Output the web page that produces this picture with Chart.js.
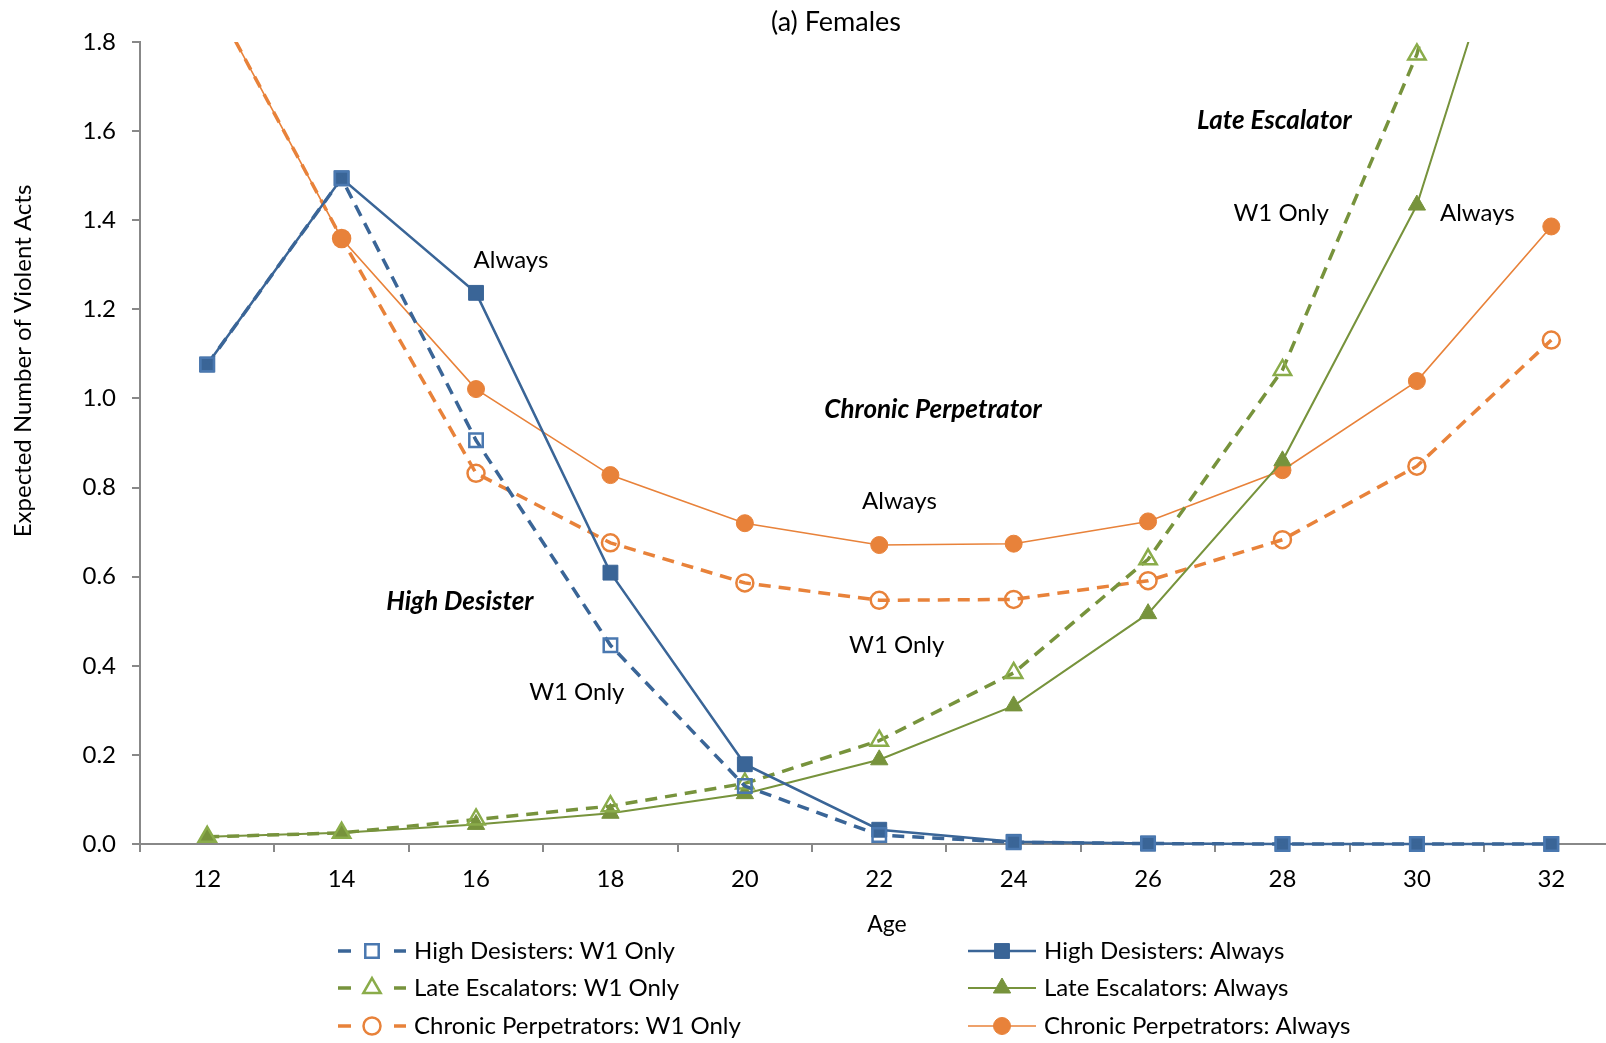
<!DOCTYPE html>
<html>
<head>
<meta charset="utf-8">
<title>(a) Females</title>
<script src="https://cdn.jsdelivr.net/npm/chart.js@4.4.0/dist/chart.umd.min.js"></script>
<style>
  html, body { margin: 0; padding: 0; background: #fff; overflow: hidden; }
</style>
</head>
<body>
<canvas id="femalesChart" width="1631" height="1043"></canvas>
<script>
// data
const ages = ["12", "14", "16", "18", "20", "22", "24", "26", "28", "30", "32"];
const highDesistersW1 = [1.076, 1.494, 0.906, 0.446, 0.13, 0.02, 0.004, 0.001, 0, 0, 0];
const highDesistersAlways = [1.076, 1.494, 1.237, 0.609, 0.179, 0.032, 0.005, 0.001, 0, 0, 0];
const lateEscalatorsW1 = [0.016, 0.025, 0.055, 0.085, 0.136, 0.232, 0.384, 0.639, 1.064, 1.772, 2.95];
const lateEscalatorsAlways = [0.016, 0.025, 0.044, 0.069, 0.113, 0.189, 0.31, 0.517, 0.86, 1.434, 2.39];
const chronicW1 = [1.92, 1.359, 0.832, 0.676, 0.586, 0.547, 0.549, 0.591, 0.683, 0.848, 1.131];
const chronicAlways = [1.92, 1.359, 1.021, 0.828, 0.72, 0.671, 0.674, 0.724, 0.839, 1.039, 1.386];
const yTicks = [0, 0.2, 0.4, 0.6, 0.8, 1.0, 1.2, 1.4, 1.6, 1.8];

// text notes on the plot: [text, category index, value, bold italic]
const notes = [
  ["Always", 2.26, 1.31, false],
  ["High Desister", 1.88, 0.545, true],
  ["W1 Only", 2.75, 0.34, false],
  ["Chronic Perpetrator", 5.4, 0.975, true],
  ["Always", 5.15, 0.77, false],
  ["W1 Only", 5.13, 0.446, false],
  ["Late Escalator", 7.94, 1.623, true],
  ["W1 Only", 7.99, 1.416, false],
  ["Always", 9.45, 1.416, false],
];

const BLUE = "#3a6597";
const BLUE_LT = "#4a78b0";
const GREEN = "#77933c";
const GREEN_LT = "#8aac4a";
const ORANGE = "#e8823a";
const FONT = "Lato, 'Open Sans', sans-serif";

function series(label, data, color, markColor, style, radius, dashed, width) {
  return {
    label: label,
    data: data,
    borderColor: color,
    borderWidth: width,
    borderDash: dashed ? [12, 8] : [],
    pointStyle: style,
    pointRadius: radius,
    pointBorderColor: markColor,
    pointBackgroundColor: dashed ? "rgba(0,0,0,0)" : markColor,
    pointBorderWidth: dashed ? 2.5 : 1,
    tension: 0,
    fill: false,
    clip: { left: 12, top: 0, right: 12, bottom: 12 },
  };
}

const datasets = [
  series("High Desisters: W1 Only", highDesistersW1, BLUE, BLUE_LT, "rect", 9.5, true, 3.5),
  series("High Desisters: Always", highDesistersAlways, BLUE, BLUE, "rect", 10.5, false, 2.5),
  series("Late Escalators: W1 Only", lateEscalatorsW1, GREEN, GREEN_LT, "triangle", 10, true, 3.5),
  series("Late Escalators: Always", lateEscalatorsAlways, GREEN, GREEN, "triangle", 10, false, 2),
  series("Chronic Perpetrators: W1 Only", chronicW1, ORANGE, ORANGE, "circle", 8.5, true, 3.5),
  series("Chronic Perpetrators: Always", chronicAlways, ORANGE, ORANGE, "circle", 8.5, false, 1.6),
];

// legend slots: column x of the line sample, row y
const legendCols = [338, 968];
const legendRows = [951, 988, 1026];

const decor = {
  id: "decor",
  afterDraw(chart) {
    const ctx = chart.ctx;
    const xs = chart.scales.x;
    const ys = chart.scales.y;
    ctx.save();
    ctx.fillStyle = "#000";
    ctx.textBaseline = "middle";
    ctx.textAlign = "center";

    ctx.font = "27px " + FONT;
    ctx.fillText("(a) Females", 836, 22);
    ctx.font = "23px " + FONT;
    ctx.fillText("Age", 887, 925);

    ctx.save();
    ctx.translate(23, 361);
    ctx.rotate(-Math.PI / 2);
    ctx.font = "24px " + FONT;
    ctx.fillText("Expected Number of Violent Acts", 0, 0);
    ctx.restore();

    notes.forEach(([text, idx, val, bold]) => {
      ctx.font = bold ? "italic bold 26px " + FONT : "24px " + FONT;
      ctx.fillText(text, xs.getPixelForValue(idx), ys.getPixelForValue(val));
    });

    // legend: W1 Only in left column, Always in right column
    ctx.textAlign = "left";
    ctx.font = "24px " + FONT;
    chart.data.datasets.forEach((ds, i) => {
      const x0 = legendCols[i % 2];
      const y = legendRows[Math.floor(i / 2)];
      const len = 68;
      ctx.save();
      ctx.strokeStyle = ds.borderColor;
      ctx.lineWidth = ds.borderWidth;
      ctx.beginPath();
      if (ds.borderDash.length) {
        ctx.moveTo(x0, y); ctx.lineTo(x0 + 13, y);
        ctx.moveTo(x0 + len - 12, y); ctx.lineTo(x0 + len, y);
      } else {
        ctx.moveTo(x0, y); ctx.lineTo(x0 + len, y);
      }
      ctx.stroke();
      ctx.fillStyle = ds.pointBackgroundColor;
      ctx.strokeStyle = ds.pointBorderColor;
      ctx.lineWidth = ds.pointBorderWidth;
      Chart.helpers.drawPoint(ctx, {
        pointStyle: ds.pointStyle,
        radius: ds.pointRadius,
        borderWidth: ds.pointBorderWidth,
        rotation: 0,
      }, x0 + len / 2, y);
      ctx.restore();
      ctx.fillStyle = "#000";
      ctx.fillText(ds.label, x0 + len + 8, y);
    });
    ctx.restore();
  },
};

new Chart(document.getElementById("femalesChart").getContext("2d"), {
  type: "line",
  data: { labels: ages, datasets: datasets },
  options: {
    responsive: false,
    animation: false,
    devicePixelRatio: 1,
    layout: { padding: { left: 0, top: 42, right: 3, bottom: 149 } },
    plugins: {
      legend: { display: false },
      tooltip: { enabled: false },
    },
    scales: {
      x: {
        type: "category",
        offset: true,
        grid: {
          offset: true,
          drawOnChartArea: false,
          color: "#888",
          tickLength: 8,
          lineWidth: 2,
        },
        border: { color: "#888", width: 2 },
        ticks: {
          color: "#000",
          padding: 13,
          maxRotation: 0,
          font: { family: FONT, size: 24 },
        },
        afterFit(scale) { scale.height = 50; },
      },
      y: {
        min: 0,
        max: 1.8,
        afterBuildTicks(scale) { scale.ticks = yTicks.map((v) => ({ value: v })); },
        grid: {
          drawOnChartArea: false,
          color: "#888",
          tickLength: 8,
          lineWidth: 2,
        },
        border: { color: "#888", width: 2 },
        ticks: {
          color: "#000",
          padding: 16,
          callback: (v) => Number(v).toFixed(1),
          font: { family: FONT, size: 24 },
        },
        afterFit(scale) { scale.width = 140; },
      },
    },
  },
  plugins: [decor],
});
</script>
</body>
</html>
